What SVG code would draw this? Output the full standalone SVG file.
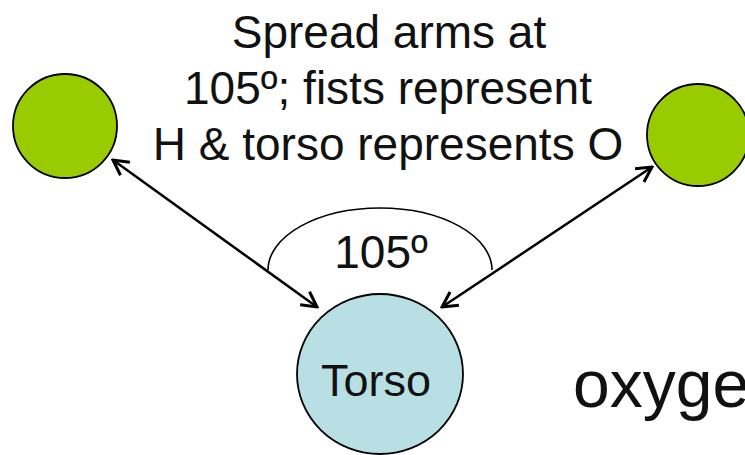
<svg xmlns="http://www.w3.org/2000/svg" width="745" height="455" viewBox="0 0 745 455">
  <style>
    .lbl { font-family: "Liberation Sans", Arial, sans-serif; fill: #111; }
    .fist { fill: #99cc00; stroke: #000; stroke-width: 1.8; }
    .torso { fill: #b8dfe4; stroke: #000; stroke-width: 1.8; }
    .arm { stroke: #000; stroke-width: 2.5; fill: none; marker-start: url(#head); marker-end: url(#head); }
    .angle { stroke: #000; stroke-width: 1.6; fill: none; }
  </style>
  <defs>
    <marker id="head" viewBox="0 0 20 20" refX="18" refY="10" markerWidth="20" markerHeight="20" markerUnits="userSpaceOnUse" orient="auto-start-reverse">
      <path d="M3,2 L18,10 L3,18" fill="none" stroke="#000" stroke-width="3" stroke-linejoin="miter"/>
    </marker>
  </defs>

  <rect width="745" height="455" fill="#fff"/>

  <!-- caption -->
  <g id="caption" class="lbl" font-size="46" text-anchor="middle">
    <text x="389" y="48">Spread arms at</text>
    <text x="388" y="104">105º; fists represent</text>
    <text x="388" y="160">H &amp; torso represents O</text>
  </g>

  <!-- arms and the angle between them -->
  <g id="connectors">
    <line class="arm" x1="113" y1="160" x2="317" y2="307"/>
    <line class="arm" x1="442" y1="307" x2="652" y2="167"/>
    <path class="angle" d="M268,270 A112,62 0 0 1 492,270"/>
    <text class="lbl" x="381" y="268" font-size="46" text-anchor="middle">105º</text>
  </g>

  <g id="fist-left">
    <circle class="fist" cx="65" cy="126" r="52"/>
  </g>

  <g id="fist-right">
    <circle class="fist" cx="698" cy="135" r="51"/>
  </g>

  <g id="torso">
    <ellipse class="torso" cx="380" cy="374" rx="83" ry="80"/>
    <text class="lbl" x="376" y="396" font-size="45" text-anchor="middle">Torso</text>
  </g>

  <text class="lbl" x="573" y="407" font-size="66">oxyge</text>
</svg>
